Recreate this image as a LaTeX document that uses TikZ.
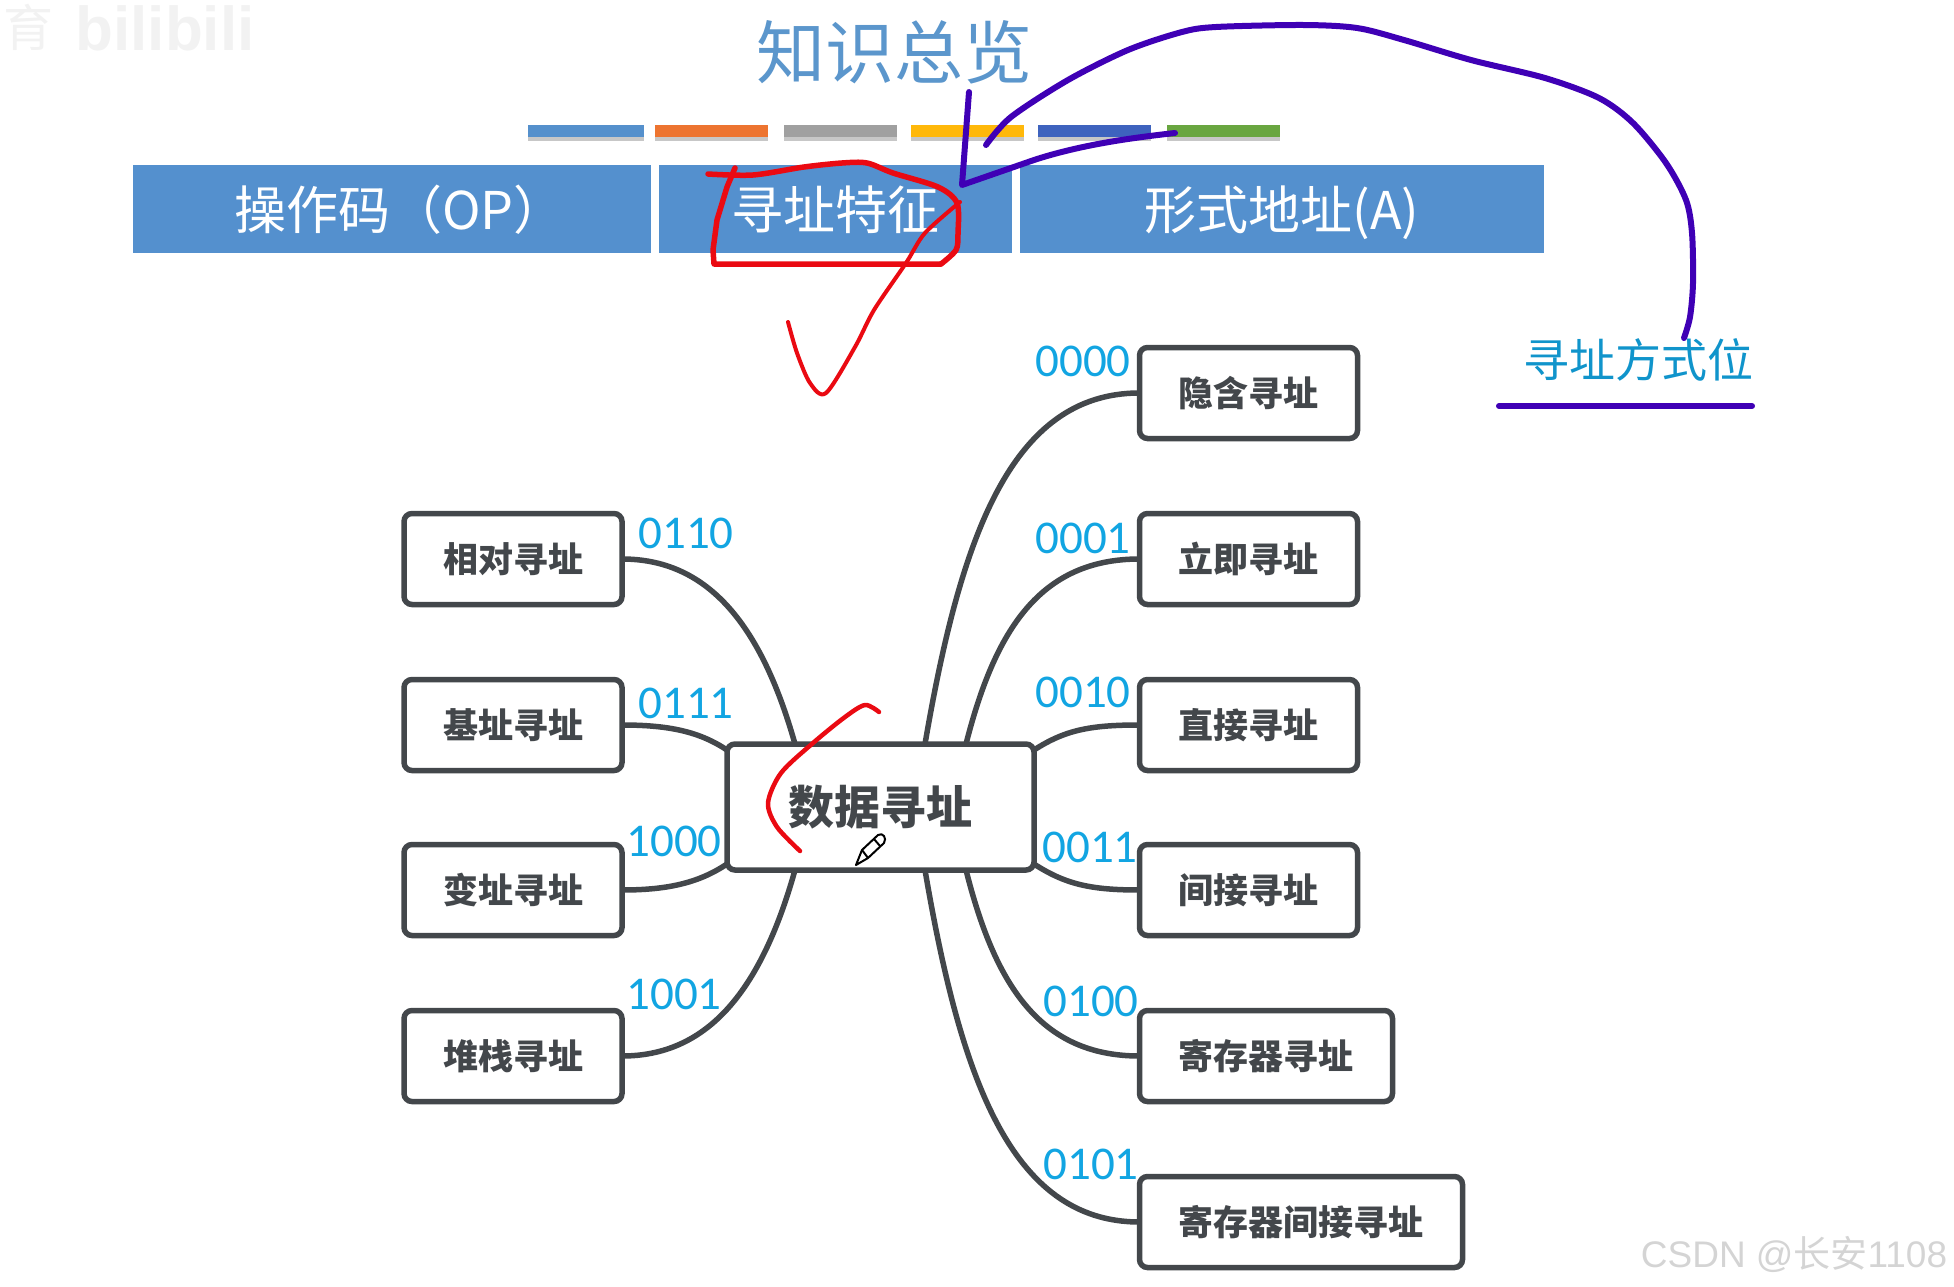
\documentclass[tikz,border=0pt]{standalone}
\usepackage{fontspec}
\setmainfont{Liberation Sans}
\newfontfamily\cjk{Noto Sans CJK SC}
\newfontfamily\calib{Carlito}
\definecolor{barblue}{HTML}{5490CE}
\definecolor{titleblue}{HTML}{5B96CC}
\definecolor{codecyan}{HTML}{12A5E2}
\definecolor{linegray}{HTML}{43474B}
\definecolor{inkpurple}{HTML}{3F00B5}
\definecolor{inkred}{HTML}{EA0A12}
\definecolor{stripeA}{HTML}{5590CC}
\definecolor{stripeB}{HTML}{ED7430}
\definecolor{stripeC}{HTML}{A0A0A0}
\definecolor{stripeD}{HTML}{FFB80A}
\definecolor{stripeE}{HTML}{3E63BE}
\definecolor{stripeF}{HTML}{69A640}
\newcommand{\fieldtext}[1]{\raisebox{-20pt}[0pt][0pt]{#1}}
\begin{document}
\begin{tikzpicture}[
  x=1pt, y=-1pt,
  fieldbar/.style={fill=barblue, text=white, minimum height=88pt, inner sep=0pt, outer sep=0pt, font=\cjk\fontsize{52}{52}\selectfont},
  modebox/.style={draw=linegray, line width=5.5pt, rounded corners=8pt, fill=white, minimum height=91pt, inner xsep=39pt, inner ysep=0pt, outer sep=0pt, text=linegray, font=\cjk\bfseries\fontsize{35}{35}\selectfont},
  hubbox/.style={modebox, minimum width=307pt, minimum height=126pt, font=\cjk\bfseries\fontsize{46}{46}\selectfont},
  codelabel/.style={text=codecyan, inner sep=0pt, font=\calib\fontsize{47}{47}\selectfont},
  branch/.style={draw=linegray, line width=5.5pt},
  purplestroke/.style={draw=inkpurple, line width=6pt, line cap=round, line join=round},
  redstroke/.style={draw=inkred, line width=5.5pt, line cap=round, line join=round}
]
\useasboundingbox (0,0) rectangle (1954,1287);
% faded marks in the corners
\node[text=black!5, font=\cjk\fontsize{50}{50}\selectfont] (markA) at (28,27) {育};
\node[text=black!5, font=\bfseries\fontsize{62}{62}\selectfont] (markB) at (165,28) {bilibili};
\node[text=black!17, font=\fontsize{37}{37}\selectfont] (markC) at (1794,1254) {CSDN @{\cjk 长安}1108};
% title and stripes
\node[text=titleblue, font=\cjk\fontsize{69}{69}\selectfont] (title) at (894,52) {知识总览};
\foreach \xa/\xb/\col in {528/644/stripeA, 655/768/stripeB, 784/897/stripeC, 911/1024/stripeD, 1038/1151/stripeE, 1167/1280/stripeF} {
  \fill[black!22] (\xa,137) rectangle (\xb,141);
  \fill[\col] (\xa,125) rectangle (\xb,137);
}
% instruction fields
\node[fieldbar, minimum width=518pt] (opfield) at (392,209) {\fieldtext{\hspace{16pt}操作码（OP）}};
\node[fieldbar, minimum width=353pt] (featfield) at (835.5,209) {\fieldtext{寻址特征}};
\node[fieldbar, minimum width=524pt] (addrfield) at (1282,209) {\fieldtext{形式地址(A)}};
% addressing modes
\node[hubbox] (hub) at (880.5,807) {数据寻址};
\node[modebox, anchor=west] (implied) at (1139.5,393) {隐含寻址};
\node[modebox, anchor=west] (immediate) at (1139.5,559) {立即寻址};
\node[modebox, anchor=west] (direct) at (1139.5,725) {直接寻址};
\node[modebox, anchor=west] (indirect) at (1139.5,890) {间接寻址};
\node[modebox, anchor=west] (register) at (1139.5,1056) {寄存器寻址};
\node[modebox, anchor=west] (regindirect) at (1139.5,1222) {寄存器间接寻址};
\node[modebox, anchor=east] (relative) at (622,559) {相对寻址};
\node[modebox, anchor=east] (base) at (622,725) {基址寻址};
\node[modebox, anchor=east] (indexed) at (622,890) {变址寻址};
\node[modebox, anchor=east] (stack) at (622,1056) {堆栈寻址};
% points on the rim of the hub
\coordinate (hubTa) at (925,744);
\coordinate (hubTb) at (966,744);
\coordinate (hubTc) at (1034,750);
\coordinate (hubBc) at (1034,864);
\coordinate (hubBb) at (966,870);
\coordinate (hubBa) at (925,870);
\coordinate (hubTl) at (795,744);
\coordinate (hubLt) at (727,750);
\coordinate (hubLb) at (727,864);
\coordinate (hubBl) at (795,870);
\draw[branch] (implied.west) .. controls (1010,393) and (960,540) .. (hubTa);
\draw[branch] (immediate.west) .. controls (1040,559) and (995,630) .. (hubTb);
\draw[branch] (direct.west) .. controls (1090,725) and (1065,730) .. (hubTc);
\draw[branch] (indirect.west) .. controls (1090,890) and (1065,884) .. (hubBc);
\draw[branch] (register.west) .. controls (1040,1056) and (995,985) .. (hubBb);
\draw[branch] (regindirect.west) .. controls (1010,1222) and (960,1075) .. (hubBa);
\draw[branch] (relative.east) .. controls (705,559) and (760,620) .. (hubTl);
\draw[branch] (base.east) .. controls (670,725) and (700,732) .. (hubLt);
\draw[branch] (indexed.east) .. controls (670,890) and (700,882) .. (hubLb);
\draw[branch] (stack.east) .. controls (705,1056) and (760,995) .. (hubBl);
% codes
\node[codelabel] (codeA) at (1083,361) {0000};
\node[codelabel] (codeB) at (1083,538) {0001};
\node[codelabel] (codeC) at (1083,692) {0010};
\node[codelabel] (codeD) at (1090,847) {0011};
\node[codelabel] (codeE) at (1091,1001) {0100};
\node[codelabel] (codeF) at (1091,1164) {0101};
\node[codelabel] (codeG) at (686,533) {0110};
\node[codelabel] (codeH) at (686,703) {0111};
\node[codelabel] (codeI) at (674,841) {1000};
\node[codelabel] (codeJ) at (674,994) {1001};
\node[text=codecyan!90!black, font=\cjk\fontsize{46}{46}\selectfont] (modebits) at (1638,360) {寻址方式位};
% handwriting
\draw[purplestroke] plot[smooth] coordinates {(986,145) (1011,117) (1068,80) (1128,50) (1182,32) (1216,27) (1303,25) (1357,28) (1404,40) (1471,60) (1545,78) (1599,98) (1633,123) (1666,163) (1686,200) (1692,233) (1693,283) (1690,317) (1684,338)};
\draw[purplestroke] (969,92) -- (962,185) -- (1034,160) .. controls (1080,145) and (1130,138) .. (1175,133);
\draw[purplestroke] (1499,406) -- (1752,406);
\draw[redstroke] plot[smooth] coordinates {(708,174) (753,175) (804,167) (842,163) (867,163) (893,173) (938,187) (957,203) (958,233) (956,250) (941,264)};
\draw[redstroke] (941,264) -- (714,264) -- (713,250) -- (717,220) -- (727,187) -- (735,168);
\draw[redstroke, line width=4pt] plot[smooth] coordinates {(960,202) (925,233) (906,263) (874,310) (855,347) (826,393) (810,383) (797,353) (788,322)};
\draw[redstroke, line width=4.5pt] plot[smooth] coordinates {(879,712) (865,705) (845,717) (813,743) (781,773) (768,803) (777,827) (800,851)};
% pencil cursor
\draw[fill=white, line width=2pt, line join=round] (856,865) -- (862,850) -- (878,835) .. controls (883,832) and (887,838) .. (884,843) -- (868,858) -- cycle;
\draw[line width=2pt] (874,839) -- (880,846) (862,850) -- (868,858);
\end{tikzpicture}
\end{document}
